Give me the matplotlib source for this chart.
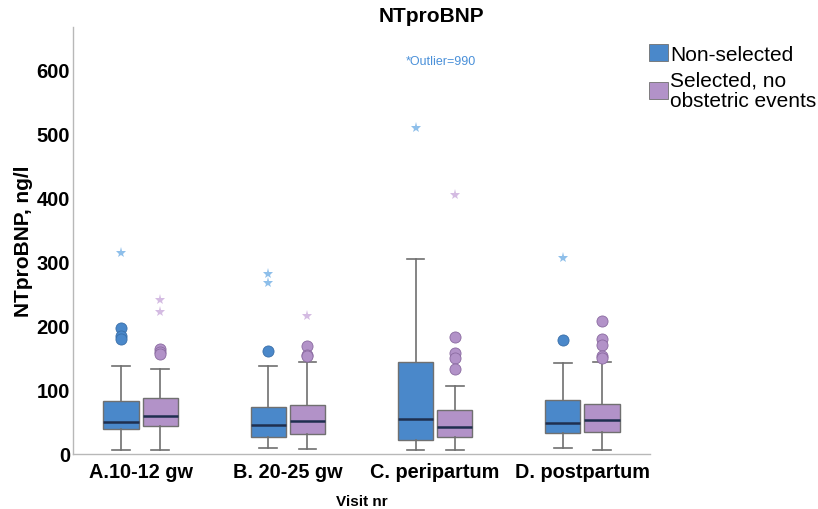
import matplotlib.pyplot as plt
import numpy as np
from matplotlib.patches import Patch

plt.rcParams['font.family'] = ['Liberation Sans', 'DejaVu Sans']

visits = ['A.10-12 gw', 'B. 20-25 gw', 'C. peripartum', 'D. postpartum']
groups = ['Non-selected', 'Selected, no\nobstetric events']

# five-number summaries per visit: whisker low, q1, median, q3, whisker high
non_sel_stats = [
    [6, 39, 50, 83, 137],
    [10, 26, 46, 73, 138],
    [6, 22, 54, 143, 304],
    [10, 33, 49, 85, 142],
]
sel_stats = [
    [6, 43, 60, 87, 133],
    [8, 31, 51, 76, 143],
    [6, 26, 42, 68, 107],
    [7, 35, 53, 78, 143],
]
# mild outliers (circles)
non_sel_out = [[197, 184, 180], [161], [], [178]]
sel_out = [[164, 160, 156], [168, 155, 153], [182, 158, 150, 132], [207, 179, 170, 153, 150]]
# extreme outliers (stars)
non_sel_ext = [[314], [281, 267], [509], [306]]
sel_ext = [[241, 222], [216], [404], []]

blue = '#4A88CA'
purple = '#B292C8'
blue_light = '#8EBFEA'
purple_light = '#D4BBE2'
edge = '#707070'

fig = plt.figure(figsize=(8.18, 5.10), dpi=100)
ax = fig.add_axes([73/818, 1-455/510, (650-73)/818, (455-28)/510])

off = 0.133
w = 0.24
series = [(non_sel_stats, non_sel_out, non_sel_ext, -off, blue, blue_light, '#3A6FA8'),
          (sel_stats, sel_out, sel_ext, off, purple, purple_light, '#8A6AA0')]
for stats, outs, exts, dx, col, light, dark in series:
    bstats = []
    for s, o in zip(stats, outs):
        bstats.append(dict(whislo=s[0], q1=s[1], med=s[2], q3=s[3], whishi=s[4], fliers=o))
    pos = np.arange(len(visits)) + dx
    ax.bxp(bstats, positions=pos, widths=w, capwidths=w/2, patch_artist=True,
           boxprops=dict(facecolor=col, edgecolor=edge, linewidth=1),
           whiskerprops=dict(color=edge, linewidth=1.2),
           capprops=dict(color=edge, linewidth=1.2),
           medianprops=dict(color='#1F2F4F', linewidth=1.8),
           flierprops=dict(marker='o', markerfacecolor=col, markeredgecolor=dark,
                           markersize=8, markeredgewidth=0.6, linestyle='none'))
    for p, e in zip(pos, exts):
        if e:
            ax.plot([p]*len(e), e, linestyle='none', marker='*', markersize=8,
                    color=light, markeredgewidth=0)

ax.text(2.04, 614, '*Outlier=990', color='#4A90D9', fontsize=9, ha='center', va='center')

ax.set_xlim(-0.46, 3.46)
ax.set_ylim(0, 667)
ax.set_xticks(range(len(visits)))
ax.set_xticklabels(visits, fontsize=14.3, fontweight='bold')
ax.set_yticks([0, 100, 200, 300, 400, 500, 600])
ax.tick_params(axis='y', labelsize=14.5, length=0, pad=2)
ax.tick_params(axis='x', length=0, pad=6)
for t in ax.get_yticklabels():
    t.set_fontweight('bold')
for s in ['top', 'right']:
    ax.spines[s].set_visible(False)
for s in ['left', 'bottom']:
    ax.spines[s].set_color('#b8b8b8')
    ax.spines[s].set_linewidth(1)

ax.set_ylabel('NTproBNP, ng/l', fontsize=15, fontweight='bold', labelpad=3)
ax.set_xlabel('Visit nr', fontsize=11, fontweight='bold', labelpad=9)
fig.text(431/818, 1-17/510, 'NTproBNP', fontsize=15, fontweight='bold', ha='center', va='center')

handles = [Patch(facecolor=blue, edgecolor=edge, linewidth=0.6),
           Patch(facecolor=purple, edgecolor=edge, linewidth=0.6)]
leg = fig.legend(handles, groups, loc='upper left', bbox_to_anchor=(649/818, 1-45/510),
                 frameon=False, fontsize=15, handlelength=0.9, handleheight=0.9,
                 handletextpad=0.1, labelspacing=0.3, borderpad=0, borderaxespad=0)
for t in leg.get_texts():
    t.set_linespacing(1.1)

fig.savefig('out.png', dpi=100)
